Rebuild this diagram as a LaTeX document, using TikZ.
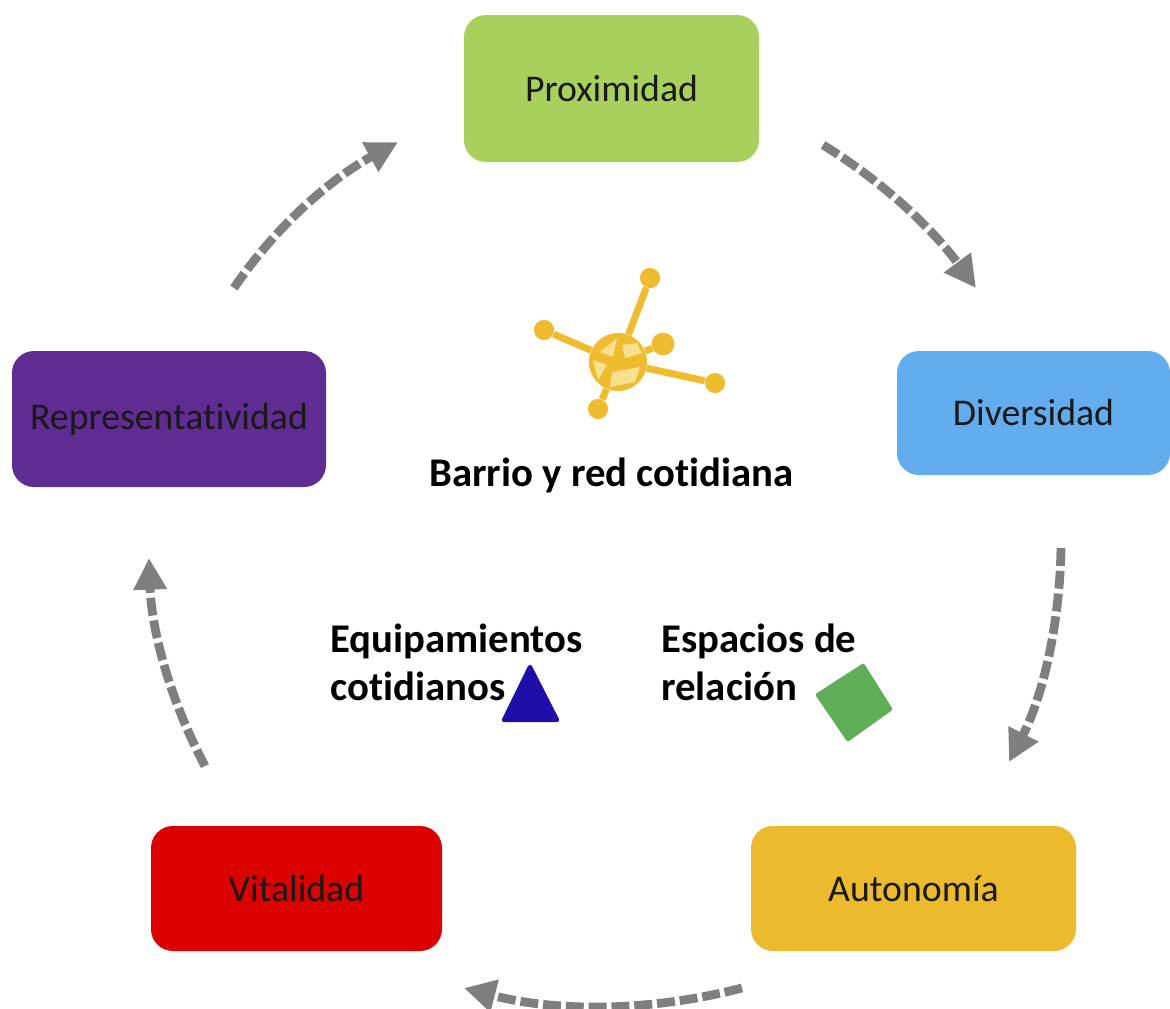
\documentclass[tikz,border=0pt]{standalone}
\usepackage{fontspec}
\setmainfont[Ligatures=NoCommon]{Carlito}
\usetikzlibrary{arrows.meta,shapes.geometric,calc}
\definecolor{cgreen}{HTML}{A9D05C}
\definecolor{cblue}{HTML}{63ADEE}
\definecolor{cpurple}{HTML}{5F2C91}
\definecolor{cred}{HTML}{DB0000}
\definecolor{camber}{HTML}{EBBB2D}
\definecolor{cgray}{HTML}{7F7F7F}
\definecolor{cicon}{HTML}{F0BC2F}
\definecolor{cpale}{HTML}{F8E08E}
\definecolor{ctri}{HTML}{1F0FA8}
\definecolor{csq}{HTML}{5FAE57}
\tikzset{
  box/.style={draw=none,rounded corners=12.5pt,inner sep=0pt,font=\fontsize{21.5}{24}\selectfont,text=black!90},
  flow/.style={draw=cgray,line width=5pt,dash pattern=on 10.2pt off 2.8pt,-{Triangle[length=18pt,width=18pt]}},
  hubdot/.style={circle,fill=cicon,inner sep=0pt,minimum size=11.5pt},
  spoke/.style={draw=cicon,line width=4pt},
  lab/.style={anchor=base west,inner sep=0pt,font=\fontsize{23.2}{26}\selectfont\bfseries,text=black},
}
\newcommand{\flowarc}[3]{\draw[flow] (#1) .. controls ($(#1)!0.667!(#2)$) and ($(#3)!0.667!(#2)$) .. (#3);}
\begin{document}
\begin{tikzpicture}[x=0.02cm,y=-0.02cm]
\useasboundingbox (0,0) rectangle (1170,1008);
\node[box,fill=cgreen,minimum width=295*0.02cm,minimum height=147*0.02cm] (prox) at (611.5,88.5) {Proximidad};
\node[box,fill=cblue,minimum width=273*0.02cm,minimum height=124*0.02cm] (dive) at (1033.5,413) {Diversidad};
\node[box,fill=cpurple,minimum width=314*0.02cm,minimum height=136*0.02cm] (repr) at (169,419) {Representatividad};
\node[box,fill=cred,minimum width=291*0.02cm,minimum height=125*0.02cm] (vita) at (296.5,888.5) {Vitalidad};
\node[box,fill=camber,minimum width=325*0.02cm,minimum height=125*0.02cm] (auto) at (913.5,888.5) {Autonomía};
% connector ends
\coordinate (a1s) at (823,145); \coordinate (a1e) at (976,288); \coordinate (a1c) at (910,198);
\coordinate (a2s) at (1061,548); \coordinate (a2e) at (1009,762); \coordinate (a2c) at (1059,665);
\coordinate (a3s) at (742,988); \coordinate (a3e) at (464,988); \coordinate (a3c) at (603,1024);
\coordinate (a4s) at (205,766); \coordinate (a4e) at (149,558); \coordinate (a4c) at (153,668);
\coordinate (a5s) at (234,288); \coordinate (a5e) at (398,142); \coordinate (a5c) at (294,199);
\flowarc{a1s}{a1c}{a1e}
\flowarc{a2s}{a2c}{a2e}
\flowarc{a3s}{a3c}{a3e}
\flowarc{a4s}{a4c}{a4e}
\flowarc{a5s}{a5c}{a5e}
% icon
\node[circle,fill=cicon,inner sep=0pt,minimum size=33pt] (hub) at (618,362) {};
\node[hubdot] (d1) at (650,278) {};
\node[hubdot] (d2) at (544,330) {};
\node[hubdot,minimum size=13pt] (d3) at (663,344) {};
\node[hubdot] (d4) at (715,383) {};
\node[hubdot] (d5) at (598,409) {};
\draw[spoke] (hub) -- (d1);
\draw[spoke] (hub) -- (d2);
\draw[spoke] (hub) -- (d3);
\draw[spoke] (hub) -- (d4);
\draw[spoke] (hub) -- (d5);
\fill[cpale] (600,352) -- (617,338) -- (613,357) -- cycle;
\fill[cpale] (622,345) -- (637,343) -- (642,353) -- (625,358) -- cycle;
\fill[cpale] (593,360) -- (607,365) -- (598,380) -- cycle;
\fill[cpale] (612,372) -- (640,367) -- (635,382) -- (610,387) -- cycle;
% labels
\node[lab] (barrio) at (429,486) {Barrio y red cotidiana};
\node[lab] (equi) at (330,652) {Equipamientos};
\node[lab] (coti) at (330,700) {cotidianos};
\node[lab] (espa) at (661,652) {Espacios de};
\node[lab] (rela) at (661,700) {relación};
\fill[ctri,draw=ctri,line width=2.5pt,line join=round] (530,667) -- (504,720) -- (557,720) -- cycle;
\fill[csq,draw=csq,line width=2.5pt,line join=round] (863,666) -- (890,709) -- (848,739) -- (818,695) -- cycle;
\end{tikzpicture}
\end{document}
